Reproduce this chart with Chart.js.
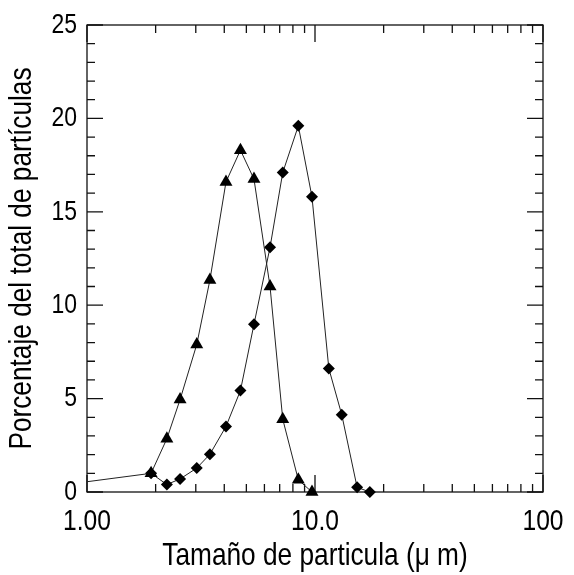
<!DOCTYPE html>
<html><head><meta charset="utf-8">
<script src="https://cdn.jsdelivr.net/npm/chart.js@4/dist/chart.umd.min.js"></script>
<style>html,body{margin:0;padding:0;background:#fff;}#wrap{width:574px;height:575px;}</style>
</head><body><div id="wrap"><canvas id="c" width="574" height="575"></canvas></div>
<script>
// ---- data ----
const triangleX = [1.0, 1.91, 2.24, 2.56, 3.03, 3.46, 4.07, 4.71, 5.40, 6.35, 7.22, 8.45, 9.70];
const triangleY = [0.55, 1.0, 2.85, 4.95, 7.9, 11.35, 16.6, 18.3, 16.75, 11.0, 3.9, 0.65, 0];
const diamondX = [1.91, 2.24, 2.56, 3.03, 3.46, 4.07, 4.71, 5.40, 6.35, 7.22, 8.45, 9.70, 11.5, 13.1, 15.3, 17.4];
const diamondY = [1.0, 0.4, 0.7, 1.28, 2.02, 3.51, 5.43, 8.98, 13.1, 17.1, 19.6, 15.8, 6.61, 4.14, 0.25, 0];
const xTickValues = [1, 10, 100];
const xTickLabels = ['1.00', '10.0', '100'];
const xMinorValues = [2,3,4,5,6,7,8,9,20,30,40,50,60,70,80,90];
const yTickValues = [0, 5, 10, 15, 20, 25];
const yMinorValues = [1,2,3,4,6,7,8,9,11,12,13,14,16,17,18,19,21,22,23,24];
const xTitle = 'Tamaño de particula (μ m)';
const yTitle = 'Porcentaje del total de partículas';

// ---- font: narrow face if installed, otherwise a horizontally condensed sans ----
function hasFont(f){
  const c=document.createElement('canvas').getContext('2d');
  c.font='40px monospace'; const a=c.measureText('Tamaño de particula').width;
  c.font="40px '"+f+"', monospace"; const b=c.measureText('Tamaño de particula').width;
  return Math.abs(a-b)>1;
}
const narrow = hasFont('Liberation Sans Narrow');
const FAMILY = narrow ? "'Liberation Sans Narrow'" : "'Liberation Sans', Arial";
const SX = narrow ? 1 : 0.82;

const canvas = document.getElementById('c');
const c2d = canvas.getContext('2d');
if (SX !== 1) {
  const origFill = c2d.fillText.bind(c2d);
  c2d.fillText = function(t, x, y){
    this.save(); this.translate(x, y); this.scale(SX, 1); origFill(t, 0, 0); this.restore();
  };
}

const frameTicks = {
  id: 'frameTicks',
  beforeDatasetsDraw(chart){
    const {ctx, chartArea:a, scales:{x, y}} = chart;
    ctx.save();
    ctx.strokeStyle = '#111';
    ctx.lineWidth = 1.3;
    ctx.strokeRect(a.left, a.top, a.right - a.left, a.bottom - a.top);
    ctx.beginPath();
    const xt = (v, len) => {
      const p = x.getPixelForValue(v);
      ctx.moveTo(p, a.bottom); ctx.lineTo(p, a.bottom - len);
      ctx.moveTo(p, a.top); ctx.lineTo(p, a.top + len);
    };
    const yt = (v, len) => {
      const p = y.getPixelForValue(v);
      ctx.moveTo(a.left, p); ctx.lineTo(a.left + len, p);
      ctx.moveTo(a.right, p); ctx.lineTo(a.right - len, p);
    };
    xTickValues.forEach(v => xt(v, 17));
    xMinorValues.forEach(v => xt(v, 8));
    yTickValues.forEach(v => yt(v, 16));
    yMinorValues.forEach(v => yt(v, 8));
    ctx.stroke();
    ctx.restore();
  }
};

const tri = triangleX.map((v, i) => ({x: v, y: triangleY[i]}));
const dia = diamondX.map((v, i) => ({x: v, y: diamondY[i]}));

new Chart(canvas, {
  type: 'line',
  data: {
    datasets: [
      {
        label: 'triangulos',
        data: tri,
        borderColor: '#222', borderWidth: 1,
        pointStyle: 'triangle',
        pointRadius: tri.map((p, i) => i === 0 ? 0 : 7.5),
        pointBackgroundColor: '#000', pointBorderColor: '#000', pointBorderWidth: 0,
        tension: 0, clip: false
      },
      {
        label: 'rombos',
        data: dia,
        borderColor: '#222', borderWidth: 1,
        pointStyle: 'rectRot',
        pointRadius: 6,
        pointBackgroundColor: '#000', pointBorderColor: '#000', pointBorderWidth: 0,
        tension: 0, clip: false
      }
    ]
  },
  options: {
    responsive: false,
    animation: false,
    devicePixelRatio: 1,
    layout: { padding: { top: 25, right: 31, left: 0, bottom: 0 } },
    plugins: { legend: { display: false }, tooltip: { enabled: false } },
    scales: {
      x: {
        type: 'logarithmic', min: 1, max: 100,
        afterBuildTicks: s => { s.ticks = xTickValues.map(v => ({value: v})); },
        afterFit: s => { s.height = 83; s.paddingLeft = 0; s.paddingRight = 0; },
        grid: { display: false, drawTicks: false },
        border: { display: false },
        ticks: {
          color: '#000', padding: 12, maxRotation: 0, autoSkip: false,
          font: { family: FAMILY, size: 30 },
          callback: (v) => { const i = xTickValues.indexOf(v); return i >= 0 ? xTickLabels[i] : ''; }
        },
        title: { display: true, text: xTitle, color: '#000', padding: 0,
                 font: { family: FAMILY, size: 32 } }
      },
      y: {
        type: 'linear', min: 0, max: 25,
        afterFit: s => { s.width = 87; s.paddingTop = 0; s.paddingBottom = 0; },
        grid: { display: false, drawTicks: false },
        border: { display: false },
        ticks: { stepSize: 5, color: '#000', padding: 10,
                 font: { family: FAMILY, size: 28 } },
        title: { display: true, text: yTitle, color: '#000', padding: {top: 3, bottom: 0},
                 font: { family: FAMILY, size: 32 } }
      }
    }
  },
  plugins: [frameTicks]
});
</script></body></html>
